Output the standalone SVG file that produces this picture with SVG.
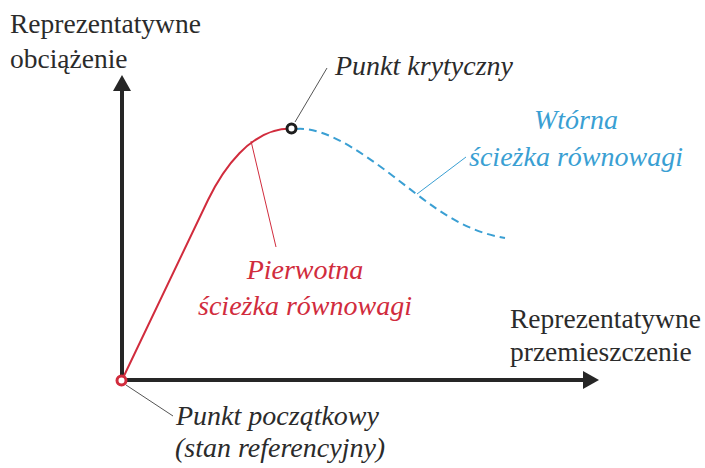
<svg xmlns="http://www.w3.org/2000/svg" width="705" height="468" viewBox="0 0 705 468">
<style>
text{font-family:'Liberation Serif','Tinos','Times New Roman','Times','DejaVu Serif','Noto Serif','FreeSerif',serif}
.t{font-size:27.5px;fill:#2b2b2b}
.i{font-style:italic;font-size:28px}
.k{fill:#2b2b2b}
.r{fill:#d12c3d}
.b{fill:#3a9fd3}
.ax{stroke:#262626;stroke-width:4;fill:none}
.ah{fill:#262626}
.lead{fill:none;stroke-width:1}
</style>
<rect width="705" height="468" fill="#fff"/>
<g id="axes">
<line class="ax" x1="122" y1="382" x2="122" y2="90"/>
<polygon class="ah" points="113,91 131,91 122,75"/>
<line class="ax" x1="120" y1="380" x2="584" y2="380"/>
<polygon class="ah" points="583,371 583,389 599,380"/>
</g>
<g id="connectors">
<path id="primary-path" d="M122,380 L208,200 C222,171 250,128 291.5,128.5" fill="none" stroke="#d12c3d" stroke-width="2"/>
<path id="secondary-path" d="M296,129 C330,126 375,162 415,193 C445,216 470,232 505,238" fill="none" stroke="#3a9fd3" stroke-width="2" stroke-dasharray="8 5"/>
<line class="lead" x1="251" y1="141" x2="276" y2="247" stroke="#d12c3d"/>
<line class="lead" x1="295" y1="122" x2="327" y2="68" stroke="#555"/>
<line class="lead" x1="417" y1="194" x2="466" y2="157" stroke="#3a9fd3"/>
<line class="lead" x1="126" y1="385" x2="173" y2="416" stroke="#555"/>
</g>
<g id="origin">
<circle cx="121.5" cy="380.5" r="4.5" fill="#fff" stroke="#d12c3d" stroke-width="3"/>
</g>
<g id="critical">
<circle cx="291.5" cy="128.5" r="4.5" fill="#fff" stroke="#1e1e1e" stroke-width="3"/>
</g>
<g id="y-label">
<text class="t" x="10" y="33">Reprezentatywne</text>
<text class="t" x="10" y="68">obciążenie</text>
</g>
<g id="x-label">
<text class="t" x="510" y="328">Reprezentatywne</text>
<text class="t" x="510" y="361">przemieszczenie</text>
</g>
<g id="critical-label">
<text class="i k" x="335" y="75">Punkt krytyczny</text>
</g>
<g id="primary-label">
<text class="i r" x="305" y="279" text-anchor="middle">Pierwotna</text>
<text class="i r" x="305" y="315" text-anchor="middle">ścieżka równowagi</text>
</g>
<g id="secondary-label">
<text class="i b" x="576" y="129" text-anchor="middle">Wtórna</text>
<text class="i b" x="576" y="166" text-anchor="middle">ścieżka równowagi</text>
</g>
<g id="origin-label">
<text class="i k" x="176" y="425">Punkt początkowy</text>
<text class="i k" x="175" y="457">(stan referencyjny)</text>
</g>
</svg>
